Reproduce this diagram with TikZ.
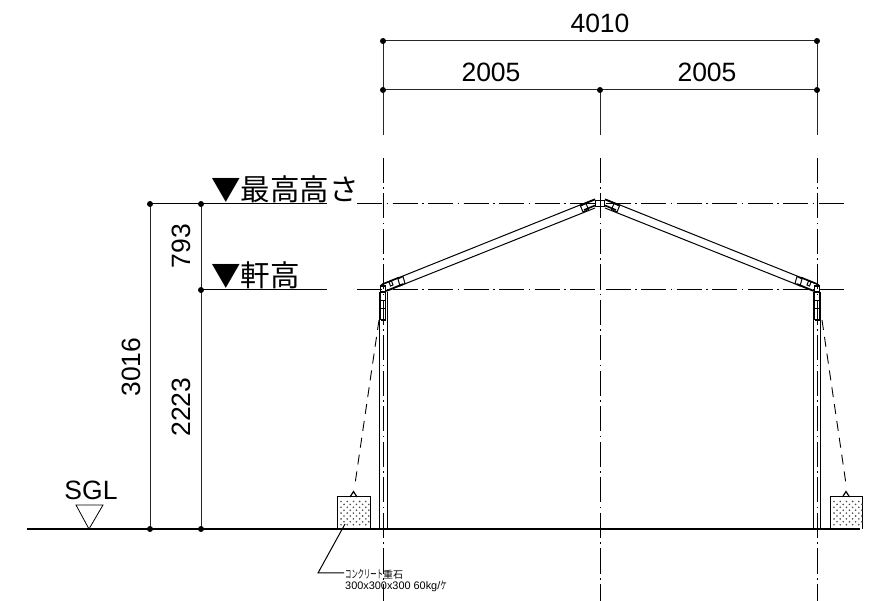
\documentclass[tikz,border=0pt]{standalone}
\usepackage{fontspec}
\setmainfont{Liberation Sans}
\newfontfamily\jpfont{Noto Sans CJK JP}
\tikzset{
  dimline/.style={line width=1pt,draw=black!85},
  thin line/.style={line width=1pt},
  centerline/.style={line width=1pt,dash pattern=on 25pt off 4.5pt on 1.5pt off 4.5pt},
  guy/.style={line width=0.9pt,dash pattern=on 10pt off 7pt},
  dimdot/.style={circle,fill=black,inner sep=0pt,minimum size=6pt},
  dimtext/.style={inner sep=0pt,font=\fontsize{26.5}{27}\selectfont},
  leveltext/.style={inner sep=0pt,anchor=west,font=\jpfont\fontsize{29.5}{30}\selectfont},
  smalltext/.style={inner sep=0pt,anchor=west,font=\fontsize{10.9}{11}\selectfont},
  joint/.style={line width=1.6pt},
}
\begin{document}
\begin{tikzpicture}[x=1pt,y=-1pt]
\useasboundingbox[fill=white] (0,0) rectangle (887,601);
% named points
\coordinate (L) at (383,41); \coordinate (R) at (817,41);
\coordinate (L2) at (383,90); \coordinate (C2) at (600,90); \coordinate (R2) at (817,90);
\coordinate (A1) at (150,204); \coordinate (A2) at (150,529);
\coordinate (B1) at (201,204); \coordinate (B2) at (201,290); \coordinate (B3) at (201,529);
% ground
\draw[line width=1.2pt] (27,529) -- (860,529);
\draw[line width=0.8pt] (76,505) -- (103,505) -- (89,529) -- cycle;
% dimensions
\draw[dimline] (L) -- (R);
\draw[dimline] (L2) -- (R2);
\draw[dimline] (L) -- (383,135);
\draw[dimline] (C2) -- (600,135);
\draw[dimline] (R) -- (817,135);
\draw[dimline] (A1) -- (A2);
\draw[dimline] (B1) -- (B3);
\draw[thin line] (A1) -- (327,204);
\draw[thin line] (B2) -- (327,290);
% centre lines
\draw[centerline] (357,204) -- (844,204);
\draw[centerline] (357,290) -- (844,290);
\draw[centerline] (383,158) -- (383,601);
\draw[centerline] (600,158) -- (600,601);
\draw[centerline] (817,158) -- (817,601);
% dots
\foreach \p in {L,R,L2,C2,R2,A1,A2,B1,B2,B3} \node[dimdot] at (\p) {};
% posts
\draw[thin line] (379.5,292) -- (379.5,529);
\draw[thin line] (387,292) -- (387,529);
\draw[thin line] (813,292) -- (813,529);
\draw[thin line] (820.5,292) -- (820.5,529);
\draw[line width=1.5pt] (375,529) -- (391,529);
\draw[line width=1.5pt] (809,529) -- (825,529);
% rafters
\draw[thin line] (383,284) -- (595,199);
\draw[thin line] (387,291) -- (595,208);
\draw[thin line] (817,284) -- (605,199);
\draw[thin line] (813,291) -- (605,208);
% ridge joint
\draw[line width=1.9pt] (595.5,200.5) rectangle (604.5,206.5);
\draw[joint] (580,205.5) -- (595,199.5) (584,210) -- (595,205.5);
\draw[joint] (620,205.5) -- (605,199.5) (616,210) -- (605,205.5);
\draw[line width=1pt] (580.5,206) -- (586,203.5) -- (588.5,209.5) -- (583,212) -- cycle;
\draw[line width=1pt] (619.5,206) -- (614,203.5) -- (611.5,209.5) -- (617,212) -- cycle;
% left eave joint
\draw[joint] (380.5,286) -- (383,284) -- (399,277.5);
\draw[joint] (386,291) -- (403,284);
\draw[line width=1pt] (398,279) -- (403,276.5) -- (405,283.5) -- (400,286) -- cycle;
\draw[line width=1pt] (389,282) -- (391.5,281) -- (393,285) -- (390.5,286) -- cycle;
\draw[joint] (380.5,286) -- (380.5,292) -- (385.5,292) -- (385.5,286) -- cycle;
\draw[line width=1.5pt] (380.5,292) -- (380.5,320) (385.5,292) -- (385.5,320) (380.5,320) -- (385.5,320);
\draw[line width=0.8pt] (380.5,300) -- (385.5,300) (380.5,308) -- (385.5,308);
% right eave joint
\draw[joint] (819.5,286) -- (817,284) -- (801,277.5);
\draw[joint] (814,291) -- (797,284);
\draw[line width=1pt] (802,279) -- (797,276.5) -- (795,283.5) -- (800,286) -- cycle;
\draw[line width=1pt] (811,282) -- (808.5,281) -- (807,285) -- (809.5,286) -- cycle;
\draw[joint] (814.5,286) -- (814.5,292) -- (819.5,292) -- (819.5,286) -- cycle;
\draw[line width=1.5pt] (814.5,292) -- (814.5,320) (819.5,292) -- (819.5,320) (814.5,320) -- (819.5,320);
\draw[line width=0.8pt] (814.5,300) -- (819.5,300) (814.5,308) -- (819.5,308);
% guy wires
\draw[guy] (379,320) -- (355,484);
\draw[guy] (822,320) -- (846,484);
% blocks
\draw[thin line] (337,529) -- (337,497) -- (370,497) -- (370,529);
\draw[thin line] (830,529) -- (830,497) -- (862,497) -- (862,529);
\foreach \ox in {337,830}{
  \foreach \r in {0,...,4}{
    \foreach \c in {0,...,4}{
      \fill[black!70] ({\ox+4+\c*6.2},{501.5+\r*5.8}) circle (0.9);
      \ifnum\r<4 \fill[black!70] ({\ox+7+\c*6.2},{504.4+\r*5.8}) circle (0.9);\fi
    }
  }
}
% anchors
\draw[line width=1.2pt] (350,497) -- (353.5,491.5) -- (357,497);
\draw[line width=1.2pt] (842.5,497) -- (846,491.5) -- (849.5,497);
% leader
\draw[line width=1pt] (345,524) -- (318,573) -- (344,573);
% labels
\node[dimtext] (t4010) at (600,23) {4010};
\node[dimtext] (t2005a) at (491,72) {2005};
\node[dimtext] (t2005b) at (707,72) {2005};
\node[dimtext,rotate=90] (t3016) at (131,367) {3016};
\node[dimtext,rotate=90] (t793) at (181,246) {793};
\node[dimtext,rotate=90] (t2223) at (181,407) {2223};
\node[dimtext] (tsgl) at (91,490) {SGL};
\node[leveltext] (thigh) at (211,189) {▼最高高さ};
\node[leveltext] (teave) at (211,275) {▼軒高};
\node[smalltext] (tn1) at (345,574) {\jpfont\scalebox{0.58}[1.05]{コンクリート}\fontsize{10}{10}\selectfont 重石};
\node[smalltext] (tn2) at (345,586) {300x300x300 60kg/{\jpfont\scalebox{0.6}[1]{ケ}}};
\end{tikzpicture}
\end{document}
